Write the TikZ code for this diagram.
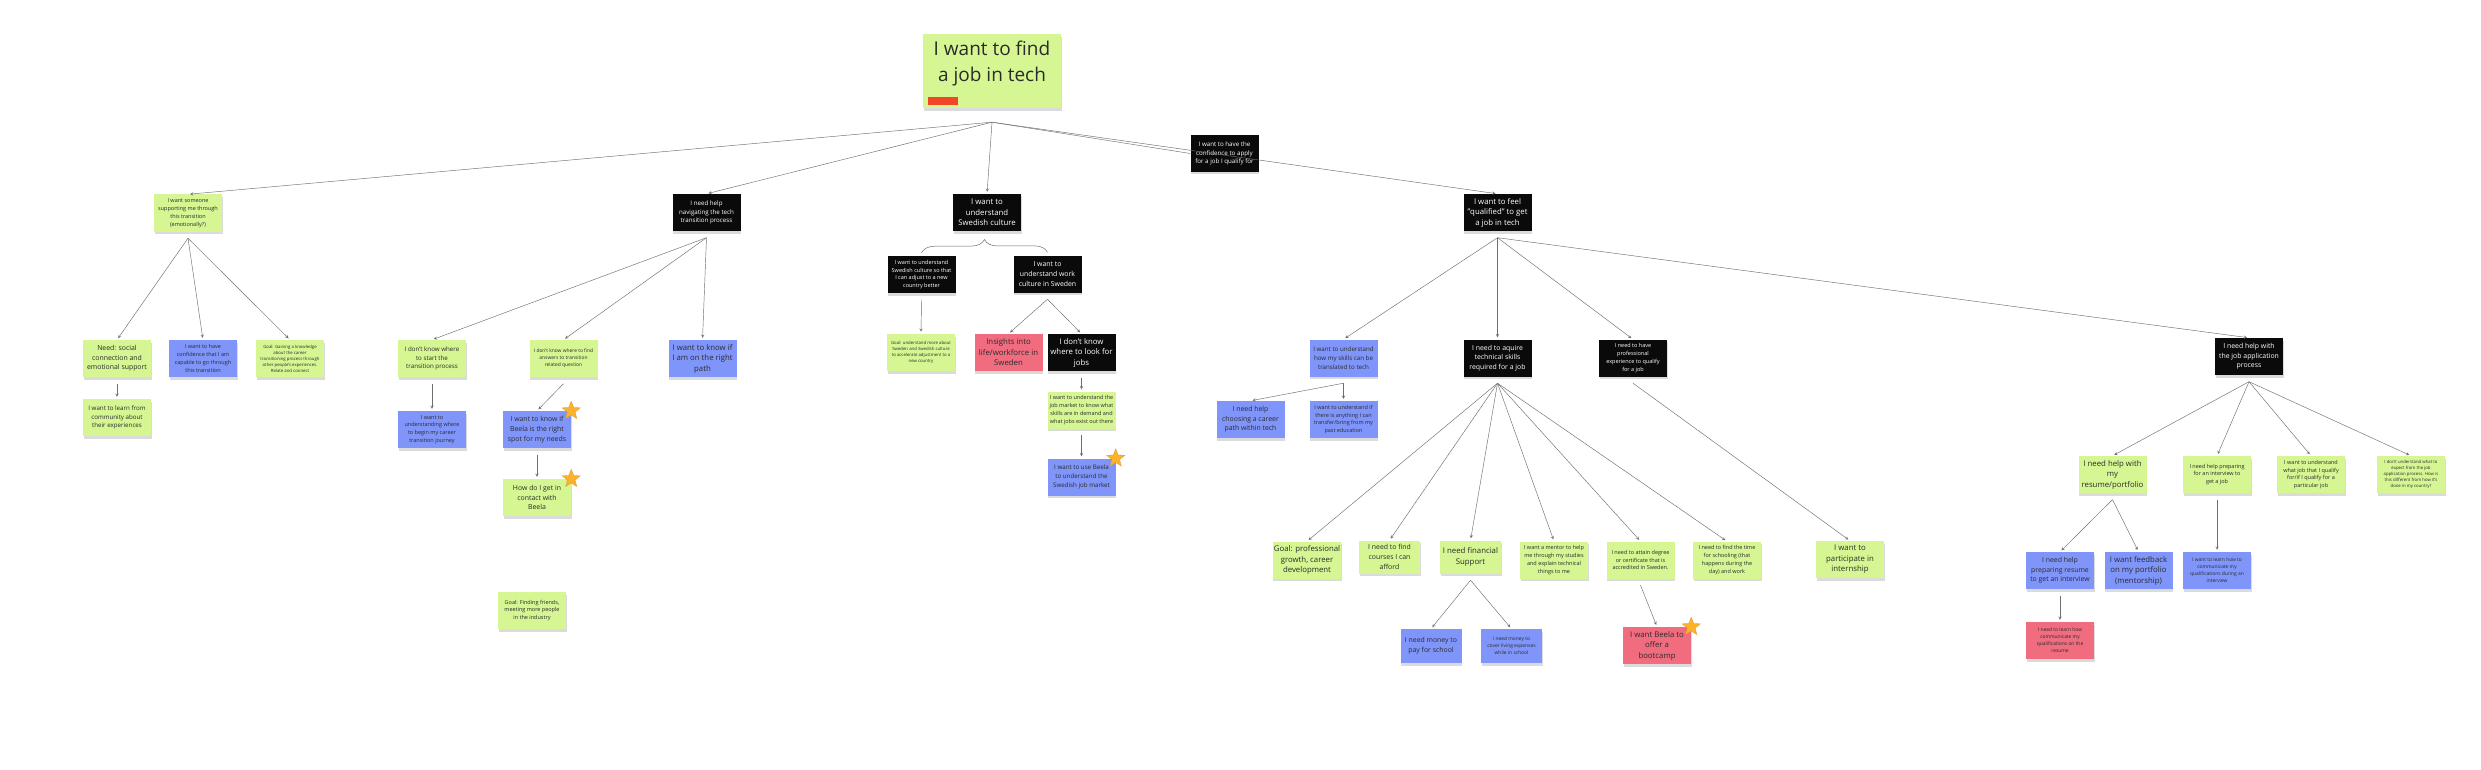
\documentclass[tikz,border=0pt]{standalone}
\usepackage{fontspec}
\setmainfont{Open Sans}
\usetikzlibrary{shapes.geometric,shadows,decorations.pathreplacing}
\definecolor{stickygreen}{HTML}{D5F692}
\definecolor{stickyblue}{HTML}{7F95FA}
\definecolor{stickypink}{HTML}{F16C7F}
\definecolor{stickyblack}{HTML}{0A0A0A}
\definecolor{barred}{HTML}{F24726}
\definecolor{starorange}{HTML}{FDB22C}
\definecolor{linegray}{HTML}{6E6E6E}
\definecolor{inkgray}{HTML}{2B2B2B}
\begin{document}
\begin{tikzpicture}
[x=1pt,y=-1pt,
  notedecorate/.style={shape=rectangle,minimum width=68pt,minimum height=37pt,inner sep=1pt,align=center,
    drop shadow={shadow xshift=0.5pt,shadow yshift=-2.5pt,opacity=0.28}},
  greennote/.style={fill=stickygreen,text=inkgray},
  bluenote/.style={fill=stickyblue,text=inkgray},
  pinknote/.style={fill=stickypink,text=inkgray},
  blacknote/.style={fill=stickyblack,text=white},
  greenslim/.style={greennote,minimum width=61pt,minimum height=33pt},
  blueslim/.style={bluenote,minimum width=61pt,minimum height=34pt},
  tinytxt/.style={font=\fontsize{4.3}{6}\selectfont},
  smalltxt/.style={font=\fontsize{4.9}{6.9}\selectfont},
  normtxt/.style={font=\fontsize{5.5}{7.8}\selectfont},
  medtxt/.style={font=\fontsize{6.2}{8.8}\selectfont},
  largetxt/.style={font=\fontsize{6.9}{9.7}\selectfont},
  hugetxt/.style={font=\fontsize{7.8}{10.5}\selectfont},
  stardecorate/.style={shape=star,star points=5,star point ratio=2.3,fill=starorange,
    draw=starorange!85!black,line width=0.3pt,minimum size=19pt,inner sep=0pt},
  arrowdecorate/.style={->,>=stealth,draw=linegray,line width=0.45pt,shorten >=2pt},
  linedecorate/.style={draw=linegray,line width=0.45pt},
  bracedecorate/.style={decorate,decoration={brace,amplitude=13pt},draw=linegray,line width=0.5pt}]
\fill[white] (0,0) rectangle (2481,770);
\useasboundingbox (0,0) rectangle (2481,770);
%% top note
\node (root) at (992,71) [shape=rectangle,fill=stickygreen,minimum width=138pt,minimum height=74pt,
  drop shadow={shadow xshift=0.5pt,shadow yshift=-3pt,opacity=0.28}] {};
\node (roottext) at (992,64) [align=center,text=inkgray,font=\fontsize{19}{26}\selectfont] {I want to find\\a job in tech};
\node (rootbar) at (943,101) [fill=barred,minimum width=30pt,minimum height=8pt,inner sep=0pt] {};
\coordinate (root-fan) at ([yshift=-14pt]root.south);
%% notes
\foreach \nodename/\x/\y/\kind/\fsize/\words in {
  A1/188/213/greennote/normtxt/{I want someone\\supporting me through\\this transition\\(emotionally?)},
  A11/117/358.5/greennote/largetxt/{Need: social\\connection and\\emotional support},
  A12/203/358.5/bluenote/normtxt/{I want to have\\confidence that I am\\capable to go through\\this transition},
  A13/290/358.5/greennote/tinytxt/{Goal: Gaining a knowledge\\about the career\\transitioning process through\\other people's experiences.\\Relate and connect},
  A14/117/417.5/greennote/medtxt/{I want to learn from\\community about\\their experiences},
  B/706.5/212.5/blacknote/medtxt/{I need help\\navigating the tech\\transition process},
  B1/432/358.5/greennote/medtxt/{I don't know where\\to start the\\transition process},
  B2/563.5/358.5/greennote/smalltxt/{I don't know where to find\\answers to transition\\related question},
  B3/702.5/358.5/bluenote/hugetxt/{I want to know if\\I am on the right\\path},
  B4/432/429.5/bluenote/normtxt/{I want to\\understanding where\\to begin my career\\transition journey},
  B5/537/429.5/bluenote/largetxt/{I want to know if\\Beela is the right\\spot for my needs},
  B6/537/497.5/greennote/largetxt/{How do I get in\\contact with\\Beela},
  B7/532/610.5/greennote/normtxt/{Goal: Finding friends,\\meeting more people\\in the industry},
  C/987/212.5/blacknote/hugetxt/{I want to\\understand\\Swedish culture},
  C1/921.5/274.5/blacknote/normtxt/{I want to understand\\Swedish culture so that\\I can adjust to a new\\country better},
  C2/1047.5/274/blacknote/largetxt/{I want to\\understand work\\culture in Sweden},
  C11/921/352.5/greennote/tinytxt/{Goal: understand more about\\Sweden and Swedish culture\\to accelerate adjustment to a\\new country},
  C21/1008.5/352.5/pinknote/hugetxt/{Insights into\\life/workforce in\\Sweden},
  C22/1081.5/352.5/blacknote/hugetxt/{I don't know\\where to look for\\jobs},
  C23/1081.5/410/greennote/normtxt/{I want to understand the\\job market to know what\\skills are in demand and\\what jobs exist out there},
  C24/1081.5/477/bluenote/medtxt/{I want to use Beela\\to understand the\\Swedish job market},
  E/1224.5/153.5/blacknote/medtxt/{I want to have the\\confidence to apply\\for a job I qualify for},
  D/1497.5/212.5/blacknote/hugetxt/{I want to feel\\"qualified" to get\\a job in tech},
  D1/1343.5/358/bluenote/medtxt/{I want to understand\\how my skills can be\\translated to tech},
  D2/1497.5/358/blacknote/largetxt/{I need to aquire\\technical skills\\required for a job},
  D3/1633/358/blacknote/normtxt/{I need to have\\professional\\experience to qualify\\for a job},
  D4/2249/356.5/blacknote/largetxt/{I need help with\\the job application\\process},
  D11/1250.5/419.5/bluenote/largetxt/{I need help\\choosing a career\\path within tech},
  D12/1343.5/419.5/bluenote/normtxt/{I want to understand if\\there is anything I can\\transfer/bring from my\\past education},
  D21/1307/560/greennote/hugetxt/{Goal: professional\\growth, career\\development},
  D22/1389.5/557/greenslim/largetxt/{I need to find\\courses I can\\afford},
  D23/1470.5/557/greenslim/hugetxt/{I need financial\\Support},
  D24/1554/560/greennote/normtxt/{I want a mentor to help\\me through my studies\\and explain technical\\things to me},
  D25/1640.5/560/greennote/normtxt/{I need to attain degree\\or certificate that is\\accredited in Sweden.},
  D26/1727/560/greennote/normtxt/{I need to find the time\\for schooling (that\\happens during the\\day) and work},
  D231/1431/646/blueslim/largetxt/{I need money to\\pay for school},
  D232/1511.5/646/blueslim/smalltxt/{I need money to\\cover living expenses\\while in school},
  D251/1657/645.5/pinknote/hugetxt/{I want Beela to\\offer a\\bootcamp},
  D31/1850/559.5/greennote/hugetxt/{I want to\\participate in\\internship},
  D41/2112.5/474.5/greennote/hugetxt/{I need help with\\my\\resume/portfolio},
  D42/2217/474.5/greennote/normtxt/{I need help preparing\\for an interview to\\get a job},
  D43/2311/474.5/greennote/normtxt/{I want to understand\\what job that I qualify\\for/if I qualify for a\\particular job},
  D44/2411/474.5/greennote/tinytxt/{I don't understand what to\\expect from the job\\application process. How is\\this different from how it's\\done in my country?},
  D411/2060/570.5/bluenote/largetxt/{I need help\\preparing resume\\to get an interview},
  D412/2138.5/570.5/bluenote/hugetxt/{I want feedback\\on my portfolio\\(mentorship)},
  D421/2217/570.5/bluenote/smalltxt/{I want to learn how to\\communicate my\\qualifications during an\\interview},
  D4111/2060/640.5/pinknote/smalltxt/{I need to learn how\\communicate my\\qualifications on the\\resume}}
{
  \node (\nodename) at (\x,\y) [notedecorate,\kind,\fsize] {\words};
  \coordinate (\nodename-fan) at ([yshift=-6.5pt]\nodename.south);
}
%% stars
\foreach \nodename in {B5, B6, C24, D251}
  \node (\nodename-star) at (\nodename.north east) [stardecorate] {};
%% edges or lines
\path
\foreach \startnode/\endnode in {root/A1, root/B, root/C, root/D,
  A1/A11, A1/A12, A1/A13, A11/A14,
  B/B1, B/B2, B/B3, B1/B4, B2/B5, B5/B6,
  C1/C11, C2/C21, C2/C22, C22/C23, C23/C24,
  D/D1, D/D2, D/D3, D/D4, D1/D11, D1/D12,
  D2/D21, D2/D22, D2/D23, D2/D24, D2/D25, D2/D26,
  D23/D231, D23/D232, D25/D251, D3/D31,
  D4/D41, D4/D42, D4/D43, D4/D44, D41/D411, D41/D412, D42/D421, D411/D4111} {
  (\startnode-fan) edge[arrowdecorate] (\endnode.north)
};
\path (root-fan) edge[linedecorate] (E.west);
\draw[bracedecorate] ([yshift=3pt]C1.north) -- ([yshift=3pt]C2.north);
\end{tikzpicture}
\end{document}
